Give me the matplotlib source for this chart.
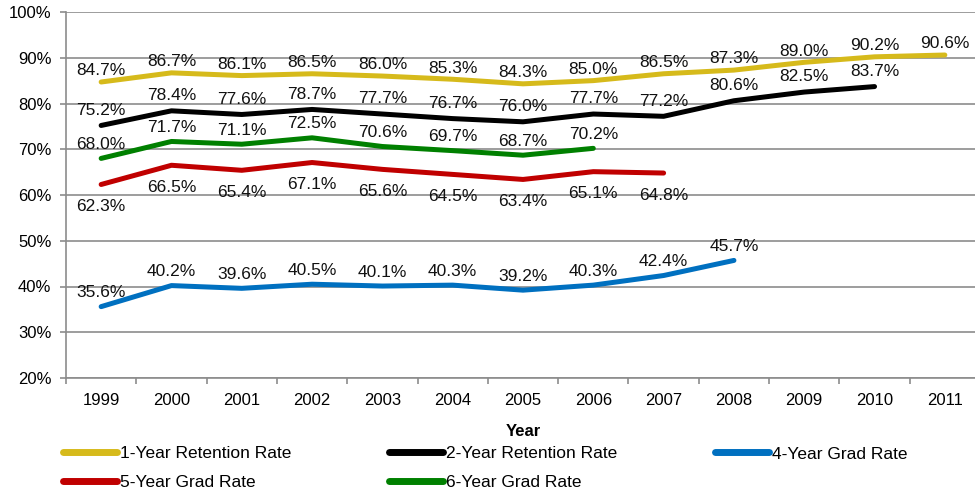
import matplotlib
matplotlib.use('Agg')
import matplotlib.pyplot as plt
from matplotlib.lines import Line2D
from matplotlib.ticker import FixedLocator, PercentFormatter

years = [1999, 2000, 2001, 2002, 2003, 2004, 2005, 2006, 2007, 2008, 2009, 2010, 2011]

retention_1yr = [84.7, 86.7, 86.1, 86.5, 86.0, 85.3, 84.3, 85.0, 86.5, 87.3, 89.0, 90.2, 90.6]
retention_2yr = [75.2, 78.4, 77.6, 78.7, 77.7, 76.7, 76.0, 77.7, 77.2, 80.6, 82.5, 83.7]
grad_4yr = [35.6, 40.2, 39.6, 40.5, 40.1, 40.3, 39.2, 40.3, 42.4, 45.7]
grad_5yr = [62.3, 66.5, 65.4, 67.1, 65.6, 64.5, 63.4, 65.1, 64.8]
grad_6yr = [68.0, 71.7, 71.1, 72.5, 70.6, 69.7, 68.7, 70.2]

y_ticks = [20, 30, 40, 50, 60, 70, 80, 90, 100]


def main():
    plt.rcParams['font.family'] = ['Liberation Sans', 'DejaVu Sans']
    plt.rcParams['font.size'] = 12

    fig = plt.figure(figsize=(9.75, 4.93), dpi=100)
    # axes runs a bit past the right edge, like the cropped original
    ax = fig.add_axes([66 / 975, 1 - 378 / 493, 914 / 975, 366 / 493])

    # (label, values, colour, label offset in points)
    series = [
        ('1-Year Retention Rate', retention_1yr, '#D6BA1B', 8),
        ('2-Year Retention Rate', retention_2yr, '#000000', 11),
        ('4-Year Grad Rate', grad_4yr, '#0070C0', 10),
        ('5-Year Grad Rate', grad_5yr, '#C00000', -16),
        ('6-Year Grad Rate', grad_6yr, '#008000', 10),
    ]

    handles = {}
    for name, vals, color, dy in series:
        xs = years[:len(vals)]
        ln, = ax.plot(xs, vals, color=color, lw=3.6, solid_capstyle='round',
                      solid_joinstyle='round', label=name, zorder=3)
        handles[name] = ln
        for x, v in zip(xs, vals):
            ax.annotate(f'{v:.1f}%', (x, v), xytext=(0, dy), textcoords='offset points',
                        ha='center', va='center', fontsize=12.5, color='#111111',
                        annotation_clip=False, zorder=4)

    ax.set_xlim(years[0] - 0.5, years[-1] + 0.5)
    ax.set_ylim(20, 100)
    ax.set_yticks(y_ticks)
    ax.yaxis.set_major_formatter(PercentFormatter(decimals=0))
    ax.set_xticks(years)
    ax.xaxis.set_minor_locator(FixedLocator([y - 0.5 for y in years] + [years[-1] + 0.5]))

    grid_color = '#8C8C8C'
    ax.grid(axis='y', color=grid_color, lw=1.2)
    ax.set_axisbelow(True)
    for side in ['top', 'right']:
        ax.spines[side].set_visible(False)
    for side in ['left', 'bottom']:
        ax.spines[side].set_color(grid_color)
        ax.spines[side].set_linewidth(1.2)

    ax.tick_params(axis='y', length=4.5, width=1.2, color=grid_color, pad=6, labelsize=12)
    ax.tick_params(axis='x', which='major', length=0, pad=11, labelsize=12)
    ax.tick_params(axis='x', which='minor', length=4.5, width=1.2, color=grid_color)

    ax.set_xlabel('Year', fontsize=12, fontweight='bold', labelpad=11)

    leg_kw = dict(frameon=False, borderpad=0, borderaxespad=0, handlelength=3.1,
                  handletextpad=0.2, labelspacing=0.8, fontsize=12.5)
    cols = [
        (63, ['1-Year Retention Rate', '5-Year Grad Rate']),
        (389, ['2-Year Retention Rate', '6-Year Grad Rate']),
        (715, ['4-Year Grad Rate']),
    ]
    for x0, names in cols:
        hs = [Line2D([], [], color=handles[n].get_color(), lw=5, solid_capstyle='round')
              for n in names]
        yc = 468 if len(names) == 2 else 454
        fig.legend(hs, names, loc='center left', bbox_to_anchor=(x0 / 975, 1 - yc / 493),
                   **leg_kw)

    fig.savefig('out.png', dpi=100)


if __name__ == '__main__':
    main()
